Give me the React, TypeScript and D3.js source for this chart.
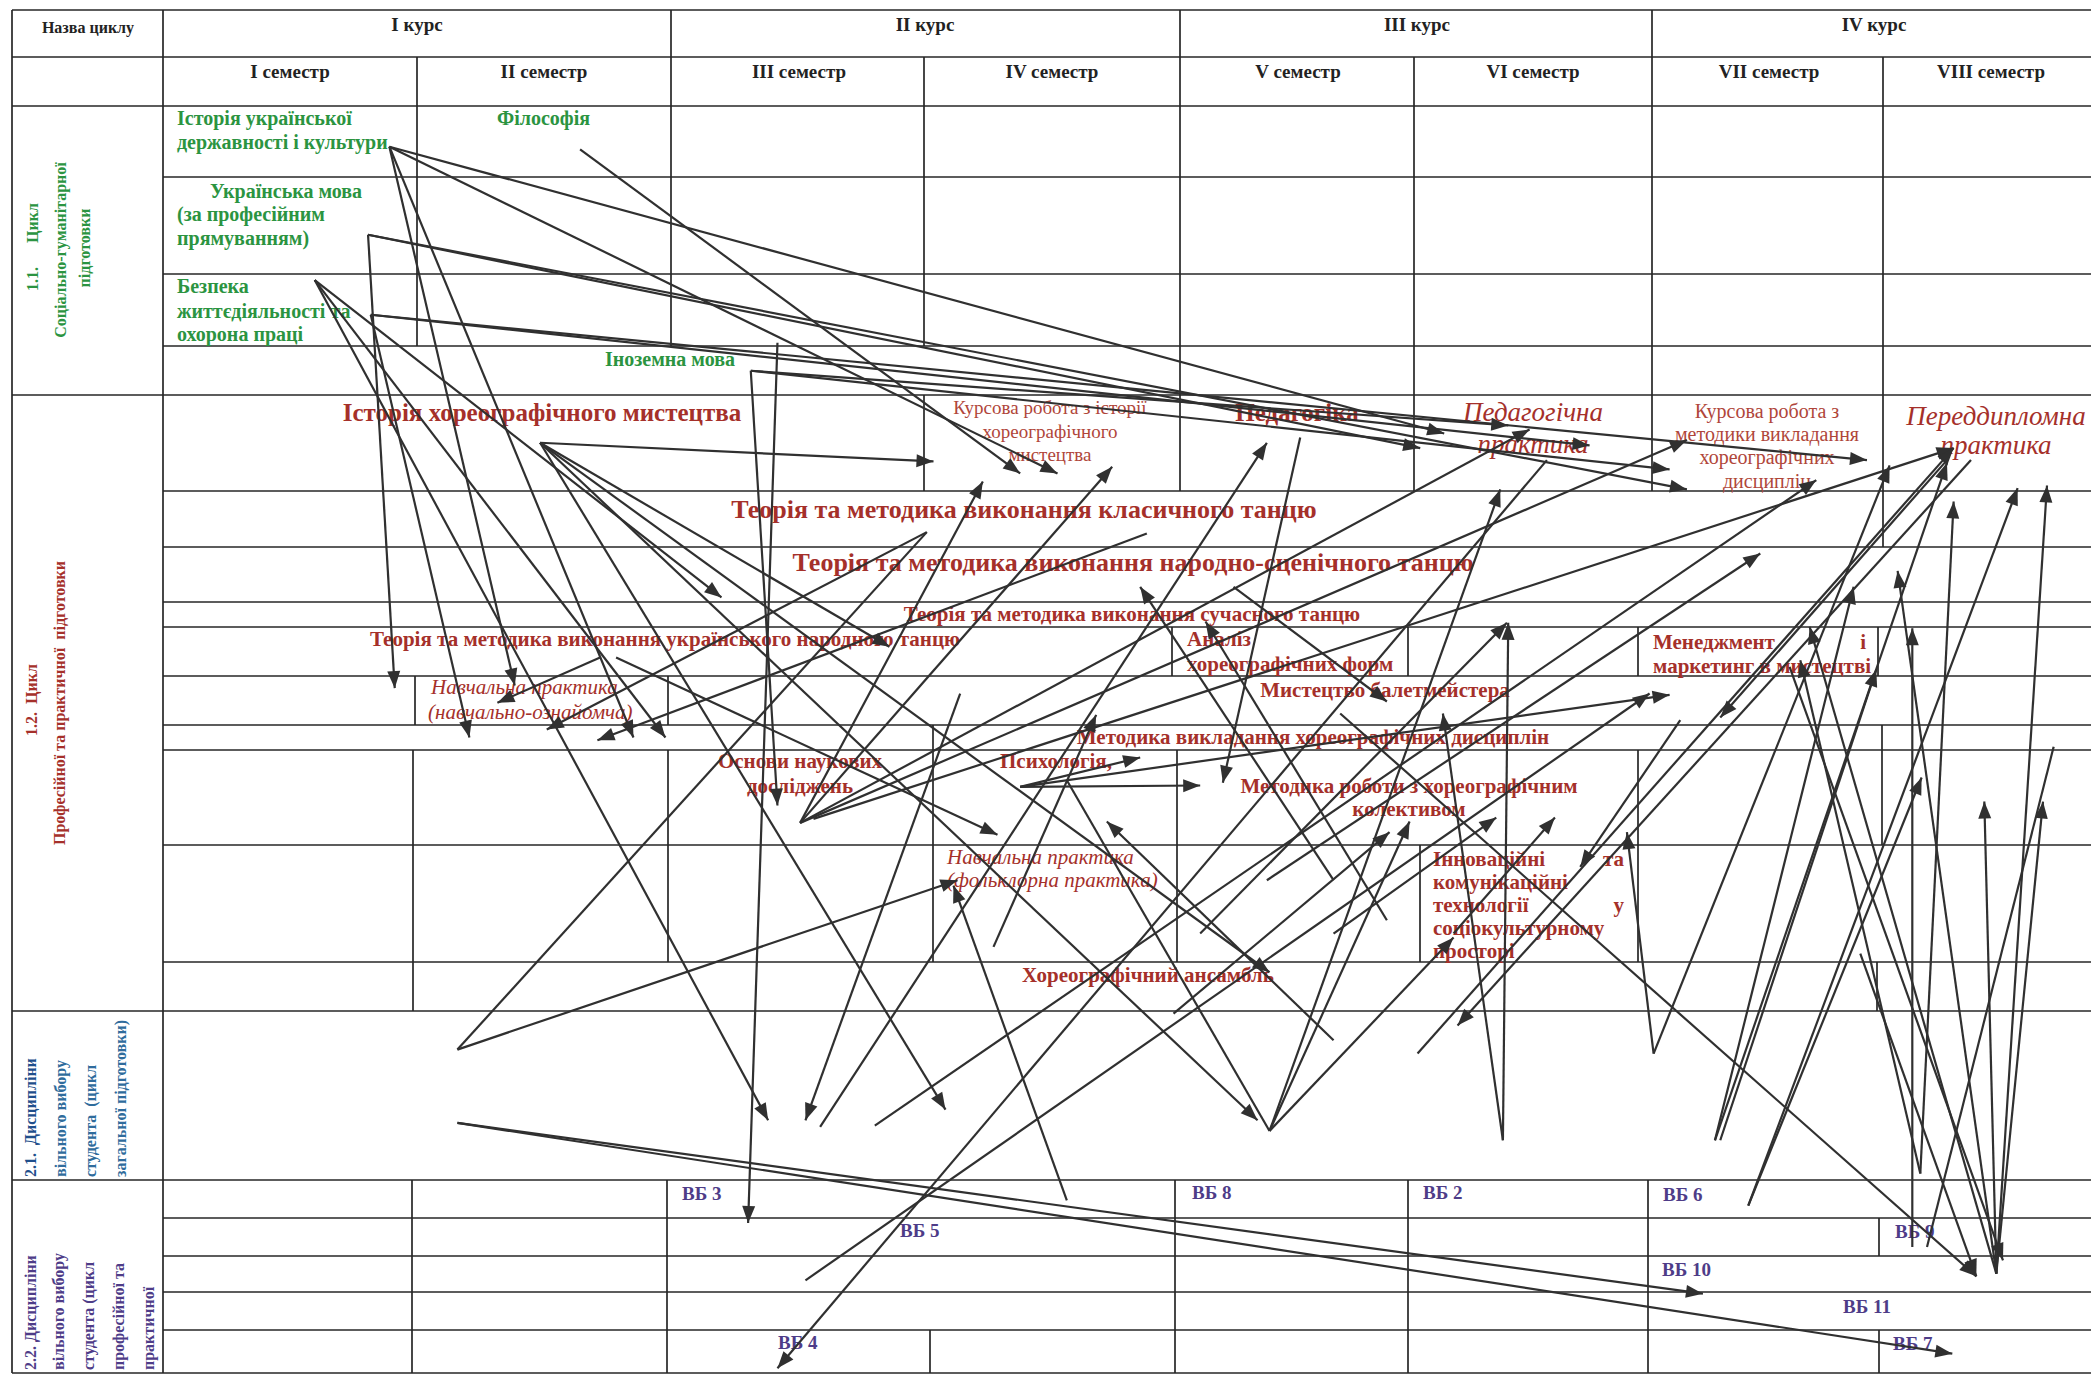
import React from "react";
import * as d3 from "d3";

const W = 2091;
const H = 1375;

// ---- table rules (page coordinates of the scanned scheme) ----
// horizontal rules: [y, x1, x2]
const H_RULES: number[][] = [
  [10, 12, 2091], [57, 12, 2091], [106, 12, 2091],
  [177, 163, 2091], [274, 163, 2091], [346, 163, 2091],
  [395, 12, 2091],
  [491, 163, 2091], [547, 163, 2091], [602, 163, 2091], [627, 163, 2091],
  [676, 163, 2091], [725, 163, 2091], [750, 163, 2091], [845, 163, 2091],
  [962, 163, 2091],
  [1011, 12, 2091], [1180, 12, 2091],
  [1218, 163, 2091], [1256, 163, 2091], [1292, 163, 2091], [1330, 163, 2091],
  [1373, 12, 2091],
];
// vertical rules: [x, y1, y2]
const V_RULES: number[][] = [
  [12, 10, 1373], [163, 10, 1373],
  [671, 10, 57], [1180, 10, 57], [1652, 10, 57],
  [417, 57, 346], [671, 57, 346], [924, 57, 346],
  [924, 395, 491],
  [1180, 57, 491], [1414, 57, 491], [1652, 57, 491], [1883, 57, 547],
  [1172, 627, 676], [1408, 627, 676], [1638, 627, 676], [1878, 627, 676],
  [415, 676, 725], [668, 676, 725],
  [933, 725, 962],
  [1882, 725, 845],
  [413, 750, 1011], [668, 750, 962], [1177, 750, 962], [1638, 750, 962],
  [1420, 845, 962],
  [1877, 962, 1011],
  [412, 1180, 1373], [667, 1180, 1373], [930, 1330, 1373],
  [1175, 1180, 1373], [1408, 1180, 1373], [1648, 1180, 1373],
  [1879, 1218, 1256], [1879, 1330, 1373],
];

// ---- header labels ----
const COURSES = [
  { label: "I курс", x: 417 },
  { label: "II курс", x: 925 },
  { label: "III курс", x: 1417 },
  { label: "IV курс", x: 1874 },
];
const SEMESTERS = [
  { label: "I семестр", x: 290 },
  { label: "II семестр", x: 544 },
  { label: "III семестр", x: 799 },
  { label: "IV семестр", x: 1052 },
  { label: "V семестр", x: 1298 },
  { label: "VI семестр", x: 1533 },
  { label: "VII семестр", x: 1769 },
  { label: "VIII семестр", x: 1991 },
];

const COLORS: Record<string, string> = {
  g: "#2b9441",
  r: "#a5302a",
  rl: "#b0463a",
  b: "#1f4f8c",
  bt: "#2f6c9c",
  p: "#4e3c88",
  k: "#222222",
};

// ---- discipline labels: [text, x, y, size, colour, bold, italic, anchor] ----
type T = [string, number, number, number, string, number, number, string];
const TEXTS: T[] = [
  ["Історія української", 177, 125, 20, "g", 1, 0, "start"],
  ["державності і культури", 177, 149, 20, "g", 1, 0, "start"],
  ["Філософія", 497, 125, 20, "g", 1, 0, "start"],
  ["Українська мова", 210, 198, 20, "g", 1, 0, "start"],
  ["(за професійним", 177, 221, 20, "g", 1, 0, "start"],
  ["прямуванням)", 177, 245, 20, "g", 1, 0, "start"],
  ["Безпека", 177, 293, 20, "g", 1, 0, "start"],
  ["життєдіяльності та", 177, 318, 20, "g", 1, 0, "start"],
  ["охорона праці", 177, 341, 20, "g", 1, 0, "start"],
  ["Іноземна мова", 605, 366, 20, "g", 1, 0, "start"],

  ["Історія хореографічного мистецтва", 542, 421, 25, "r", 1, 0, "middle"],
  ["Курсова робота з історії", 1050, 414, 19, "rl", 0, 0, "middle"],
  ["хореографічного", 1050, 438, 19, "rl", 0, 0, "middle"],
  ["мистецтва", 1050, 461, 19, "rl", 0, 0, "middle"],
  ["Педагогіка", 1297, 421, 25, "r", 1, 0, "middle"],
  ["Педагогічна", 1533, 421, 27, "r", 0, 1, "middle"],
  ["практика", 1533, 453, 27, "r", 0, 1, "middle"],
  ["Курсова робота з", 1767, 418, 20, "rl", 0, 0, "middle"],
  ["методики викладання", 1767, 441, 20, "rl", 0, 0, "middle"],
  ["хореографічних", 1767, 464, 20, "rl", 0, 0, "middle"],
  ["дисциплін", 1767, 488, 20, "rl", 0, 0, "middle"],
  ["Переддипломна", 1996, 425, 27, "r", 0, 1, "middle"],
  ["практика", 1996, 454, 27, "r", 0, 1, "middle"],

  ["Теорія та методика виконання класичного танцю", 1024, 518, 26, "r", 1, 0, "middle"],
  ["Теорія та методика виконання народно-сценічного танцю", 1133, 571, 26, "r", 1, 0, "middle"],
  ["Теорія та методика виконання сучасного танцю", 1132, 621, 21, "r", 1, 0, "middle"],
  ["Теорія та методика виконання українського народного танцю", 665, 646, 21, "r", 1, 0, "middle"],
  ["Аналіз", 1187, 646, 21, "r", 1, 0, "start"],
  ["хореографічних форм", 1187, 671, 21, "r", 1, 0, "start"],
  ["Менеджмент", 1653, 649, 21, "r", 1, 0, "start"],
  ["і", 1866, 649, 21, "r", 1, 0, "end"],
  ["маркетинг в мистецтві", 1653, 673, 21, "r", 1, 0, "start"],
  ["Навчальна практика", 431, 694, 21, "r", 0, 1, "start"],
  ["(навчально-ознайомча)", 428, 719, 21, "r", 0, 1, "start"],
  ["Мистецтво балетмейстера", 1385, 697, 21, "r", 1, 0, "middle"],
  ["Методика викладання хореографічних дисциплін", 1313, 744, 21, "r", 1, 0, "middle"],
  ["Основи наукових", 800, 768, 21, "r", 1, 0, "middle"],
  ["досліджень", 800, 793, 21, "r", 1, 0, "middle"],
  ["Психологія,", 1000, 768, 21, "r", 1, 0, "start"],
  ["Методика роботи з хореографічним", 1409, 793, 21, "r", 1, 0, "middle"],
  ["колективом", 1409, 816, 21, "r", 1, 0, "middle"],
  ["Навчальна практика", 947, 864, 21, "r", 0, 1, "start"],
  ["(фольклорна практика)", 947, 887, 21, "r", 0, 1, "start"],
  ["Інноваційні", 1433, 866, 21, "r", 1, 0, "start"],
  ["та", 1624, 866, 21, "r", 1, 0, "end"],
  ["комунікаційні", 1433, 889, 21, "r", 1, 0, "start"],
  ["технології", 1433, 912, 21, "r", 1, 0, "start"],
  ["у", 1624, 912, 21, "r", 1, 0, "end"],
  ["соціокультурному", 1433, 935, 21, "r", 1, 0, "start"],
  ["просторі", 1433, 958, 21, "r", 1, 0, "start"],
  ["Хореографічний ансамбль", 1148, 982, 21, "r", 1, 0, "middle"],

  ["ВБ 3", 682, 1200, 19, "p", 1, 0, "start"],
  ["ВБ 5", 900, 1237, 19, "p", 1, 0, "start"],
  ["ВБ 4", 778, 1349, 19, "p", 1, 0, "start"],
  ["ВБ 8", 1192, 1199, 19, "p", 1, 0, "start"],
  ["ВБ 2", 1423, 1199, 19, "p", 1, 0, "start"],
  ["ВБ 6", 1663, 1201, 19, "p", 1, 0, "start"],
  ["ВБ 9", 1895, 1238, 19, "p", 1, 0, "start"],
  ["ВБ 10", 1662, 1276, 19, "p", 1, 0, "start"],
  ["ВБ 11", 1843, 1313, 19, "p", 1, 0, "start"],
  ["ВБ 7", 1893, 1350, 19, "p", 1, 0, "start"],
];

// ---- rotated cycle names: [text, baselineX, y, colour, anchor] ----
type R = [string, number, number, string, string];
const CYCLE_LABELS: R[] = [
  ["1.1.      Цикл", 38, 247, "g", "middle"],
  ["Соціально-гуманітарної", 66, 250, "g", "middle"],
  ["підготовки", 90, 248, "g", "middle"],
  ["1.2.  Цикл", 37, 700, "r", "middle"],
  ["Професійної та практичної  підготовки", 65, 703, "r", "middle"],
  ["2.1.  Дисципліни", 36, 1177, "b", "start"],
  ["вільного вибору", 66, 1177, "bt", "start"],
  ["студента  (цикл", 96, 1177, "bt", "start"],
  ["загальної підготовки)", 126, 1177, "bt", "start"],
  ["2.2. Дисципліни", 36, 1370, "p", "start"],
  ["вільного вибору", 64, 1370, "p", "start"],
  ["студента (цикл", 94, 1370, "p", "start"],
  ["професійної та", 124, 1370, "p", "start"],
  ["практичної", 154, 1370, "p", "start"],
];

// ---- logical links between disciplines (measured on a 1568-wide copy): [x1,y1,x2,y2,arrowhead] ----
const LINKS: number[][] = [
  [292, 110, 1083, 325, 1],
  [292, 110, 793, 355, 1],
  [292, 110, 386, 514, 1],
  [292, 110, 475, 553, 1],
  [435, 112, 765, 355, 1],
  [276, 176, 296, 516, 1],
  [276, 176, 1065, 336, 1],
  [276, 176, 1265, 367, 1],
  [278, 236, 1192, 334, 1],
  [278, 236, 1400, 345, 1],
  [278, 236, 352, 553, 1],
  [236, 210, 541, 448, 1],
  [236, 210, 499, 553, 1],
  [236, 210, 576, 840, 1],
  [563, 278, 1131, 319, 1],
  [563, 278, 1252, 352, 1],
  [563, 278, 583, 604, 1],
  [583, 257, 561, 917, 1],
  [405, 332, 700, 346, 1],
  [405, 332, 709, 832, 1],
  [405, 332, 952, 729, 1],
  [405, 332, 943, 840, 1],
  [405, 332, 667, 485, 1],
  [462, 493, 748, 626, 1],
  [450, 493, 373, 527, 1],
  [695, 399, 410, 547, 1],
  [343, 787, 695, 399, 0],
  [343, 787, 718, 660, 1],
  [343, 842, 1277, 970, 1],
  [343, 842, 1464, 1015, 1],
  [860, 400, 448, 555, 1],
  [600, 617, 737, 361, 1],
  [600, 617, 834, 350, 1],
  [600, 617, 1147, 322, 1],
  [600, 617, 1265, 330, 1],
  [610, 614, 1465, 336, 1],
  [765, 590, 855, 568, 1],
  [765, 590, 900, 589, 1],
  [765, 590, 1252, 521, 1],
  [720, 520, 604, 840, 1],
  [615, 845, 950, 332, 1],
  [975, 328, 917, 587, 1],
  [800, 585, 952, 848, 0],
  [952, 848, 1125, 367, 1],
  [952, 848, 1090, 703, 1],
  [952, 848, 1057, 616, 1],
  [1127, 855, 1131, 467, 1],
  [1127, 855, 1082, 535, 1],
  [1240, 790, 1220, 624, 1],
  [1240, 790, 1417, 349, 1],
  [1286, 855, 1390, 440, 1],
  [1286, 855, 1460, 347, 1],
  [1311, 904, 1441, 583, 1],
  [1311, 904, 1513, 366, 1],
  [1434, 935, 1434, 471, 1],
  [1497, 955, 1535, 364, 1],
  [1497, 955, 1488, 601, 1],
  [1497, 955, 1532, 601, 1],
  [1440, 880, 1465, 376, 1],
  [1497, 955, 1423, 428, 1],
  [1497, 955, 1357, 470, 1],
  [1440, 880, 1350, 495, 1],
  [1290, 855, 1407, 502, 1],
  [950, 660, 1320, 415, 1],
  [1460, 345, 1290, 538, 1],
  [1395, 715, 1482, 957, 1],
  [1342, 500, 1502, 945, 1],
  [1478, 345, 1093, 769, 1],
  [1000, 660, 855, 440, 1],
  [1040, 690, 904, 466, 1],
  [745, 710, 822, 536, 1],
  [925, 440, 1040, 526, 1],
  [900, 700, 1130, 467, 1],
  [1000, 780, 830, 616, 1],
  [880, 760, 1042, 624, 1],
  [1000, 700, 1122, 613, 1],
  [1090, 700, 1166, 613, 1],
  [1160, 345, 583, 1026, 1],
  [800, 900, 715, 664, 1],
  [604, 960, 1237, 520, 1],
  [656, 844, 1362, 360, 1],
  [1005, 535, 1482, 957, 1],
  [1063, 790, 1465, 336, 1],
  [1445, 935, 1540, 560, 0],
  [1260, 540, 1185, 650, 1],
];

function arrowHead(x1: number, y1: number, x2: number, y2: number) {
  const a = Math.atan2(y2 - y1, x2 - x1);
  const len = 17;
  const hw = 6.5;
  const bx = x2 - len * Math.cos(a);
  const by = y2 - len * Math.sin(a);
  const p = d3.path();
  p.moveTo(x2, y2);
  p.lineTo(bx + hw * Math.sin(a), by - hw * Math.cos(a));
  p.lineTo(bx - hw * Math.sin(a), by + hw * Math.cos(a));
  p.closePath();
  return p.toString();
}

export default function App() {
  const sx = d3.scaleLinear().domain([0, 1568]).range([0, W]);
  const sy = d3.scaleLinear().domain([0, 1031]).range([0, H]);
  const font = "'Liberation Serif', 'Times New Roman', serif";

  return (
    <svg
      width={W}
      height={H}
      viewBox={`0 0 ${W} ${H}`}
      style={{ position: "absolute", left: 0, top: 0, background: "#fff" }}
      fontFamily={font}
    >
      <rect x={0} y={0} width={W} height={H} fill="#fff" />
      <g stroke="#262626" strokeWidth={1.7}>
        {H_RULES.map((r, i) => (
          <line key={"h" + i} x1={r[1]} x2={r[2]} y1={r[0]} y2={r[0]} />
        ))}
        {V_RULES.map((r, i) => (
          <line key={"v" + i} x1={r[0]} x2={r[0]} y1={r[1]} y2={r[2]} />
        ))}
      </g>

      <text x={88} y={33} textAnchor="middle" fontSize={16} fontWeight="bold" fill={COLORS.k}>
        Назва циклу
      </text>
      {COURSES.map((c) => (
        <text key={c.label} x={c.x} y={31} textAnchor="middle" fontSize={19} fontWeight="bold" fill={COLORS.k}>
          {c.label}
        </text>
      ))}
      {SEMESTERS.map((s) => (
        <text key={s.label} x={s.x} y={78} textAnchor="middle" fontSize={19} fontWeight="bold" fill={COLORS.k}>
          {s.label}
        </text>
      ))}

      {CYCLE_LABELS.map((c, i) => (
        <text
          key={"c" + i}
          transform={`translate(${c[1]},${c[2]}) rotate(-90)`}
          textAnchor={c[4]}
          fontSize={16}
          fontWeight="bold"
          fill={COLORS[c[3]]}
          style={{ whiteSpace: "pre" }}
        >
          {c[0]}
        </text>
      ))}

      {TEXTS.map((t, i) => (
        <text
          key={"t" + i}
          x={t[1]}
          y={t[2]}
          fontSize={t[3]}
          fill={COLORS[t[4]]}
          fontWeight={t[5] ? "bold" : "normal"}
          fontStyle={t[6] ? "italic" : "normal"}
          textAnchor={t[7]}
        >
          {t[0]}
        </text>
      ))}

      <g>
        {LINKS.map((l, i) => {
          const x1 = sx(l[0]), y1 = sy(l[1]), x2 = sx(l[2]), y2 = sy(l[3]);
          return (
            <g key={"l" + i}>
              <line x1={x1} y1={y1} x2={x2} y2={y2} stroke="#303030" strokeWidth={2.2} />
              {l[4] ? <path d={arrowHead(x1, y1, x2, y2)} fill="#303030" /> : null}
            </g>
          );
        })}
      </g>
    </svg>
  );
}
